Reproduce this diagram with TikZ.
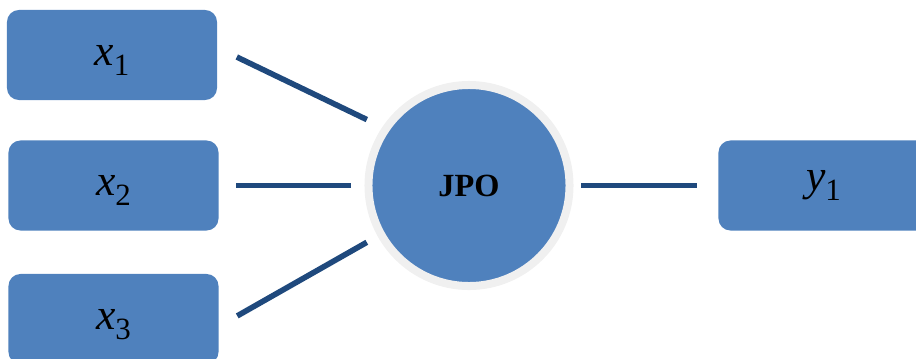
\documentclass[tikz,border=0pt]{standalone}
\usepackage{fontspec}
\setmainfont{Liberation Serif}
\usetikzlibrary{shapes}

\definecolor{boxblue}{HTML}{4F81BD}
\definecolor{linkblue}{HTML}{1F497D}
\definecolor{ringgray}{HTML}{F0F0F0}

\newcommand{\varsub}[2]{\textit{#1}\raisebox{-0.5ex}[0pt][0pt]{\fontsize{22}{24}\selectfont #2}}

\begin{document}
\begin{tikzpicture}[x=0.025cm, y=-0.025cm]
	\tikzstyle{var} = [rectangle, rounded corners=0.3cm, fill=boxblue, minimum width=5.25cm, minimum height=2.25cm, font=\fontsize{31}{36}\selectfont]
	\tikzstyle{core} = [circle, fill=boxblue, draw=ringgray, line width=0.2cm, minimum size=5.025cm, font=\fontsize{23}{28}\selectfont\bfseries]
	\tikzstyle{link} = [draw=linkblue, line width=0.14cm]
	\clip (0,0) rectangle (916,358);
	% Input nodes
	\node[var] (x1) at (112,55) {\varsub{x}{1}};
	\node[var] (x2) at (113.5,185.5) {\varsub{x}{2}};
	\node[var] (x3) at (113.5,319) {\varsub{x}{3}};
	% Center node
	\node[core] (jpo) at (469,185.5) {JPO};
	% Output node
	\node[var] (y1) at (823.5,185.5) {\varsub{y}{1}};

	% Connect nodes
	\draw [link, shorten <=0.54cm, shorten >=0.43cm] (x1.4) -- (jpo.146);
	\draw [link, shorten <=0.44cm, shorten >=0.34cm] (x2.east) -- (jpo.west);
	\draw [link, shorten <=0.53cm, shorten >=0.31cm] (x3.356) -- (jpo.209);
	\draw [link, shorten <=0.19cm, shorten >=0.52cm] (jpo.east) -- (y1.west);
\end{tikzpicture}
\end{document}
